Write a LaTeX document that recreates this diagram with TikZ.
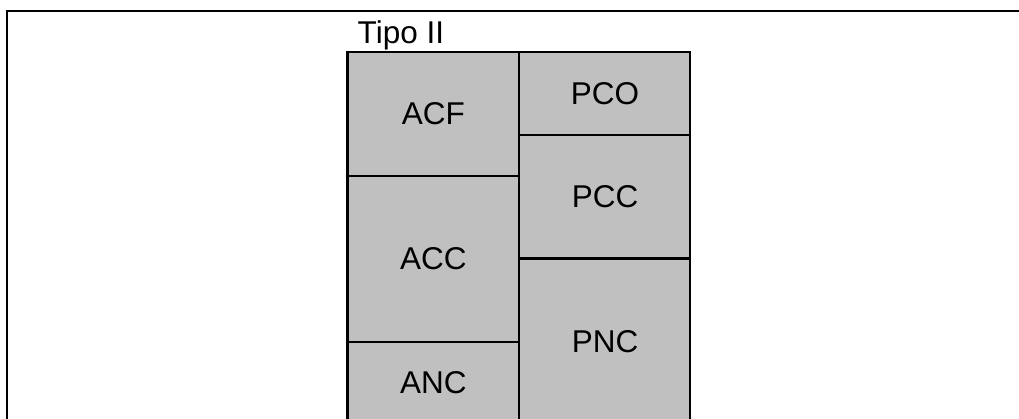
\documentclass[tikz,border=0pt]{standalone}
\usepackage{fontspec}
\setmainfont{Liberation Sans}
\begin{document}
\begin{tikzpicture}[x=1pt,y=-1pt,
  cell/.style={draw=black,line width=2.4pt,fill=cellgray},
  lbl/.style={inner sep=0pt,font=\fontsize{31.5}{36}\selectfont},
  frameline/.style={draw=black,line width=2pt}]
\definecolor{cellgray}{HTML}{C0C0C0}
\useasboundingbox (0,0) rectangle (1019,418);
\clip (0,0) rectangle (1019,418);
% outer frame
\draw[frameline] (6.6,420) -- (6.6,11) -- (1022,11);
% left column
\path[cell] (347.5,52) rectangle (519,176);
\node[lbl] (acf) at (433.25,113.5) {ACF};
\path[cell] (347.5,176) rectangle (519,342);
\node[lbl] (acc) at (433.25,259) {ACC};
\path[cell] (347.5,342) rectangle (519,423);
\node[lbl] (anc) at (433.25,382.5) {ANC};
% right column
\path[cell] (519,52) rectangle (690,135);
\node[lbl] (pco) at (605,93.5) {PCO};
\path[cell] (519,135) rectangle (690,258.5);
\node[lbl] (pcc) at (605,197) {PCC};
\path[cell] (519,258.5) rectangle (690,425);
\node[lbl] (pnc) at (605,342) {PNC};
% title
\node[lbl,anchor=base west] (title) at (357.5,43.3) {Tipo II};
\end{tikzpicture}
\end{document}
